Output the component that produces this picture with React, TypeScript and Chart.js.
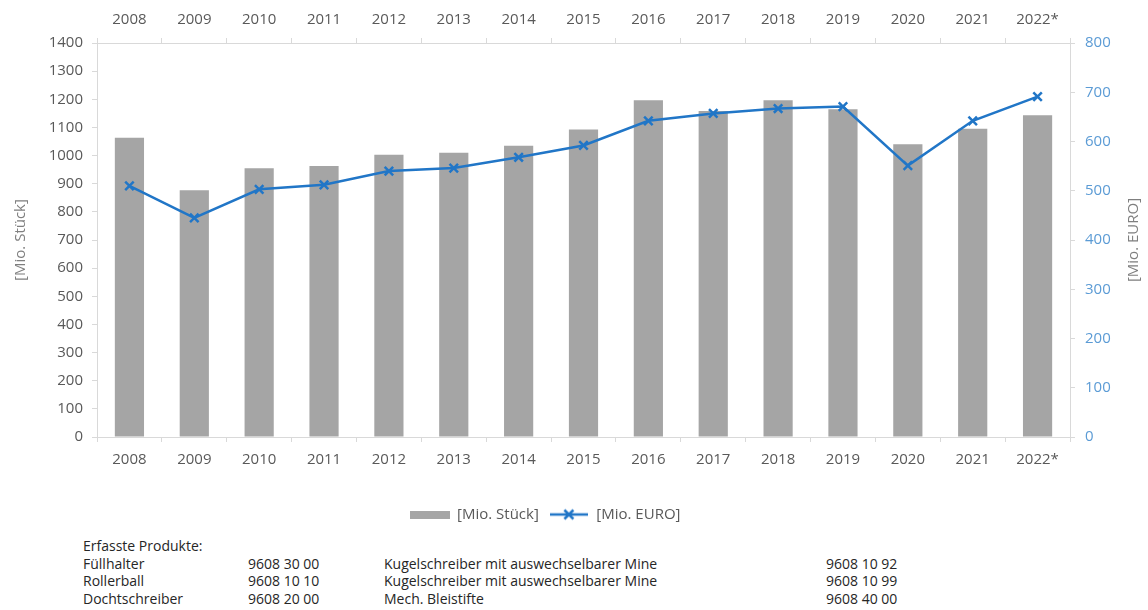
import React, { useEffect, useRef } from "react";
import { Chart, registerables } from "chart.js";

Chart.register(...registerables);

const categories = ["2008", "2009", "2010", "2011", "2012", "2013", "2014", "2015", "2016", "2017", "2018", "2019", "2020", "2021", "2022*"];
const stueckValues = [1063, 877, 955, 963, 1003, 1010, 1035, 1093, 1197, 1158, 1197, 1165, 1040, 1095, 1143];
const euroValues = [510, 445, 503, 512, 540, 546, 568, 592, 642, 657, 667, 671, 551, 642, 691];
const stueckLabel = "[Mio. Stück]";
const euroLabel = "[Mio. EURO]";
const productNames = ["Füllhalter", "Rollerball", "Dochtschreiber"];
const productCodes = ["9608 30 00", "9608 10 10", "9608 20 00"];
const productNames2 = ["Kugelschreiber mit auswechselbarer Mine", "Kugelschreiber mit auswechselbarer Mine", "Mech. Bleistifte"];
const productCodes2 = ["9608 10 92", "9608 10 99", "9608 40 00"];

const FONT = "'Open Sans', 'Noto Sans', sans-serif";
const GRAY_BAR = "#a5a5a5";
const BLUE = "#2176c7";
const TICK = "#595959";
const RIGHT_TICK = "#5b9bd5";
const AXIS = "#d9d9d9";
const TITLE = "#7f7f7f";

function makeBarIcon() {
  const c = document.createElement("canvas");
  c.width = 40;
  c.height = 8;
  const g = c.getContext("2d")!;
  g.fillStyle = GRAY_BAR;
  g.fillRect(0, 0, 40, 8);
  return c;
}

function makeLineIcon() {
  const c = document.createElement("canvas");
  c.width = 38;
  c.height = 14;
  const g = c.getContext("2d")!;
  g.strokeStyle = BLUE;
  g.lineWidth = 2.5;
  g.beginPath();
  g.moveTo(0, 7);
  g.lineTo(38, 7);
  g.stroke();
  g.beginPath();
  g.moveTo(19 - 4.5, 7 - 4.5);
  g.lineTo(19 + 4.5, 7 + 4.5);
  g.moveTo(19 - 4.5, 7 + 4.5);
  g.lineTo(19 + 4.5, 7 - 4.5);
  g.stroke();
  return c;
}

export default function App() {
  const ref = useRef<HTMLCanvasElement | null>(null);

  useEffect(() => {
    if (!ref.current) return;
    const barIcon = makeBarIcon();
    const lineIcon = makeLineIcon();
    const shiftLegend = {
      id: "shiftLegend",
      afterLayout(chart: any) {
        const lg = chart.legend;
        if (lg) {
          lg.left -= 29;
          lg.right -= 29;
        }
      },
    };
    const rightTitle = {
      id: "rightTitle",
      afterDraw(chart: any) {
        const s = chart.scales.y1;
        const ctx = chart.ctx;
        ctx.save();
        ctx.translate(1134, (s.top + s.bottom) / 2);
        ctx.rotate(-Math.PI / 2);
        ctx.fillStyle = TITLE;
        ctx.font = `15px ${FONT}`;
        ctx.textAlign = "center";
        ctx.textBaseline = "middle";
        ctx.fillText(euroLabel, 0, 0);
        ctx.restore();
      },
    };
    const chart = new Chart(ref.current, {
      type: "bar",
      data: {
        labels: categories,
        datasets: [
          {
            type: "line",
            label: euroLabel,
            data: euroValues,
            yAxisID: "y1",
            xAxisID: "x",
            borderColor: BLUE,
            backgroundColor: BLUE,
            borderWidth: 2.5,
            pointStyle: "crossRot",
            pointRadius: 6,
            pointBorderWidth: 2.5,
            pointBorderColor: BLUE,
            tension: 0,
            order: 0,
          } as any,
          {
            type: "bar",
            label: stueckLabel,
            data: stueckValues,
            yAxisID: "y",
            xAxisID: "x",
            backgroundColor: GRAY_BAR,
            barPercentage: 0.45,
            categoryPercentage: 1,
            order: 1,
          },
        ],
      },
      options: {
        animation: false,
        responsive: false,
        devicePixelRatio: 1,
        layout: { padding: 0 },
        plugins: {
          tooltip: { enabled: false },
          legend: {
            position: "bottom",
            reverse: true,
            labels: {
              usePointStyle: true,
              pointStyleWidth: 40,
              padding: 10,
              color: TICK,
              font: { family: FONT, size: 15 },
              generateLabels(chart: any) {
                const items = Chart.defaults.plugins.legend.labels.generateLabels(chart);
                items.forEach((it: any) => {
                  it.pointStyle = it.datasetIndex === 1 ? barIcon : lineIcon;
                });
                return items;
              },
            },
          },
        },
        scales: {
          x: {
            position: "bottom",
            offset: true,
            grid: { offset: true, drawOnChartArea: false, color: AXIS, tickLength: 5 },
            border: { color: AXIS },
            ticks: { color: TICK, font: { family: FONT, size: 15 }, padding: 9, maxRotation: 0 },
            afterFit(s: any) {
              s.height = 60;
            },
          },
          x2: {
            type: "category",
            position: "top",
            offset: true,
            labels: categories,
            grid: { offset: true, drawOnChartArea: false, color: AXIS, tickLength: 5 },
            border: { color: AXIS },
            ticks: { color: TICK, font: { family: FONT, size: 15 }, padding: 9, maxRotation: 0 },
            afterFit(s: any) {
              s.height = 43;
            },
          },
          y: {
            position: "left",
            min: 0,
            max: 1400,
            ticks: {
              stepSize: 100,
              color: TICK,
              font: { family: FONT, size: 15 },
              padding: 9,
              callback: (v: any) => String(v),
            },
            grid: { drawOnChartArea: false, color: AXIS, tickLength: 5 },
            border: { color: AXIS },
            title: {
              display: true,
              text: stueckLabel,
              color: TITLE,
              font: { family: FONT, size: 15 },
              padding: { top: 12, bottom: 0 },
            },
            afterFit(s: any) {
              s.width = 97;
            },
          },
          y1: {
            position: "right",
            min: 0,
            max: 800,
            ticks: {
              stepSize: 100,
              color: RIGHT_TICK,
              font: { family: FONT, size: 15 },
              padding: 10,
              callback: (v: any) => String(v),
            },
            grid: { drawOnChartArea: false, color: AXIS, tickLength: 5 },
            border: { color: AXIS },
            afterFit(s: any) {
              s.width = 78;
            },
          },
        },
      } as any,
      plugins: [shiftLegend, rightTitle],
    });
    return () => chart.destroy();
  }, []);

  const rowTop = (i: number) => 537 + i * 17.7;
  const cell = (left: number, top: number, text: string, key: string) => (
    <div
      key={key}
      style={{ position: "absolute", left, top, lineHeight: "18px", fontSize: 14, whiteSpace: "nowrap", color: "#262626" }}
    >
      {text}
    </div>
  );

  return (
    <div style={{ position: "absolute", left: 0, top: 0, width: 1148, height: 610, background: "#fff", fontFamily: FONT, overflow: "hidden" }}>
      <canvas ref={ref} width={1148} height={532} style={{ position: "absolute", left: 0, top: 0, width: 1148, height: 532 }} />
      {cell(83, rowTop(0), "Erfasste Produkte:", "h")}
      {productNames.map((t, i) => cell(83, rowTop(i + 1), t, "a" + i))}
      {productCodes.map((t, i) => cell(248, rowTop(i + 1), t, "b" + i))}
      {productNames2.map((t, i) => cell(384, rowTop(i + 1), t, "c" + i))}
      {productCodes2.map((t, i) => cell(826, rowTop(i + 1), t, "d" + i))}
    </div>
  );
}
